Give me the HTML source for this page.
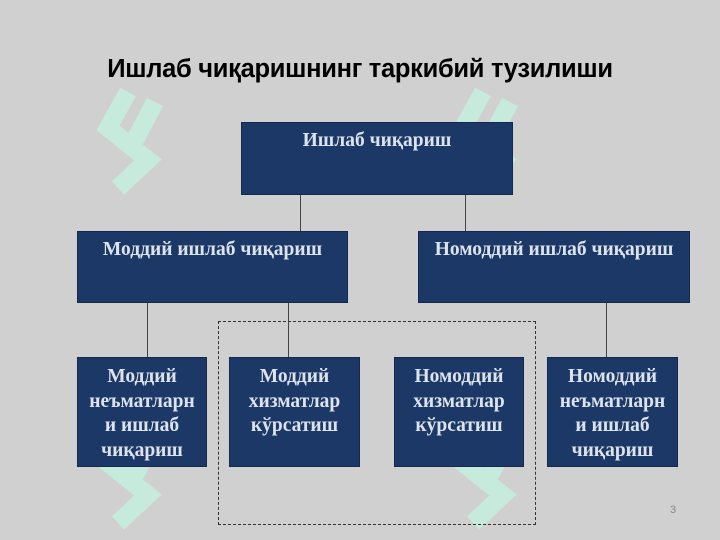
<!DOCTYPE html>
<html><head><meta charset="utf-8"><style>
body{margin:0;width:720px;height:540px;background:#d0d0d0;position:relative;overflow:hidden;font-family:"Liberation Serif",serif}
.t{position:absolute;left:0;width:720px;top:55px;text-align:center;font-family:"Liberation Sans",sans-serif;font-weight:bold;font-size:25.5px;letter-spacing:-0.3px;color:#000}
.b{position:absolute;background:#1b3866;border:1px solid #14294d;color:#dde3ec;font-weight:bold;font-size:19.5px;text-align:center;line-height:22px;box-sizing:border-box;white-space:nowrap}
.s{line-height:24.5px;padding-top:7px}
.l{position:absolute;width:1px;background:#444}
</style></head><body>
<svg width="720" height="540" style="position:absolute;left:0;top:0" fill="none" stroke="#c6eadb" stroke-width="18" stroke-linejoin="miter">
<g id="w"><polyline points="128,92 108,128 148,160 118,188"/><polyline points="155,102 135,140"/></g>
<use href="#w" x="355" y="0"/><use href="#w" x="0" y="335"/><use href="#w" x="355" y="335"/>
</svg>
<div class="t">Ишлаб чиқаришнинг таркибий тузилиши</div>
<div class="l" style="left:300px;top:195px;height:36px"></div>
<div class="l" style="left:465px;top:195px;height:36px"></div>
<div class="l" style="left:147px;top:303px;height:54px"></div>
<div class="l" style="left:288px;top:303px;height:54px"></div>
<div class="l" style="left:606px;top:303px;height:54px"></div>
<div style="position:absolute;left:218px;top:321px;width:318px;height:204px;border:1px dashed #333;box-sizing:border-box"></div>
<div class="b" style="left:241px;top:122px;width:272px;height:73px;padding-top:7px">Ишлаб чиқариш</div>
<div class="b" style="left:77px;top:231px;width:271px;height:72px;padding-top:7px">Моддий ишлаб чиқариш</div>
<div class="b" style="left:418px;top:231px;width:272px;height:72px;padding-top:7px">Номоддий ишлаб чиқариш</div>
<div class="b s" style="left:77px;top:357px;width:130px;height:110px">Моддий<br>неъматларн<br>и ишлаб<br>чиқариш</div>
<div class="b s" style="left:229px;top:357px;width:131px;height:110px">Моддий<br>хизматлар<br>кўрсатиш</div>
<div class="b s" style="left:394px;top:357px;width:130px;height:110px">Номоддий<br>хизматлар<br>кўрсатиш</div>
<div class="b s" style="left:547px;top:357px;width:131px;height:110px">Номоддий<br>неъматларн<br>и ишлаб<br>чиқариш</div>
<div style="position:absolute;left:670px;top:504px;font-size:11px;color:#888;font-family:'Liberation Sans',sans-serif">3</div>
</body></html>
